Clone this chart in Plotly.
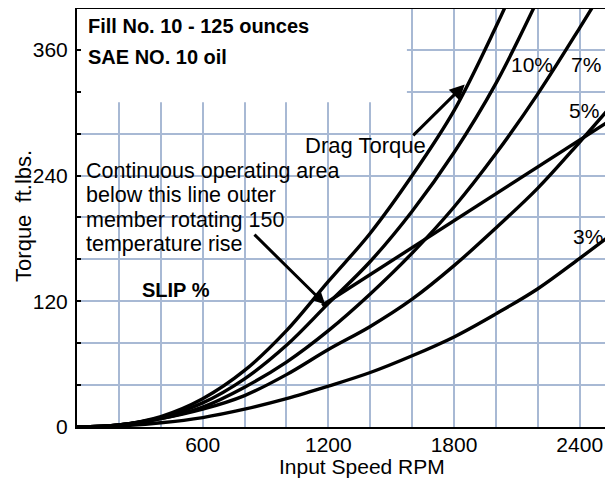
import plotly.graph_objects as go

# ---- data ----
drag_rpm = [0, 200, 400, 600, 800, 1000, 1200, 1400, 1600, 1800, 2000, 2100]
drag_torque = [0, 2, 10, 27, 54, 92, 139, 185, 240, 302, 382, 426]

slip10_rpm = [0, 200, 400, 600, 800, 1000, 1200, 1400, 1600, 1800, 2000, 2200, 2300]
slip10_torque = [0, 2, 9, 23, 46, 78, 118, 158, 206, 262, 328, 408, 450]

slip7_rpm = [0, 200, 400, 600, 800, 1000, 1200, 1400, 1600, 1800, 2000, 2200, 2400, 2550]
slip7_torque = [0, 2, 8, 19, 38, 62, 92, 127, 166, 210, 261, 318, 381, 430]

slip5_rpm = [0, 200, 400, 600, 800, 1000, 1200, 1400, 1600, 1800, 2000, 2200, 2400, 2540]
slip5_torque = [0, 2, 8, 17, 30, 50, 74, 96, 122, 154, 190, 228, 272, 304]

slip3_rpm = [0, 200, 400, 600, 800, 1000, 1200, 1400, 1600, 1800, 2000, 2200, 2400, 2540]
slip3_torque = [0, 1, 4, 9, 17, 27, 39, 52, 68, 86, 108, 132, 161, 182]

limit_rpm = [1170, 2540]
limit_torque = [116, 292]

x_tickvals = [600, 1200, 1800, 2400]
y_tickvals = [0, 120, 240, 360]

FONT = "Liberation Sans, Arial, Helvetica, sans-serif"
GRID = "#a8b9d4"

fig = go.Figure()
for xs, ys in [(drag_rpm, drag_torque), (slip10_rpm, slip10_torque), (slip7_rpm, slip7_torque),
               (slip5_rpm, slip5_torque), (slip3_rpm, slip3_torque), (limit_rpm, limit_torque)]:
    fig.add_trace(go.Scatter(x=xs, y=ys, mode="lines",
                             line=dict(color="black", width=3.4, shape="spline"),
                             hoverinfo="skip", showlegend=False))

# white area behind the heading (grid hidden there)
fig.add_shape(type="rect", xref="x", yref="y", x0=0, x1=1575, y0=310, y1=400,
              fillcolor="white", line=dict(width=0), layer="between")

fig.update_xaxes(range=[0, 2535], tickvals=x_tickvals, ticktext=[str(v) for v in x_tickvals],
                 showgrid=True, gridcolor=GRID, gridwidth=2,
                 minor=dict(dtick=200, tick0=0, showgrid=True, gridcolor=GRID, gridwidth=2),
                 showline=True, linecolor="black", linewidth=2, mirror=True, automargin=False,
                 zeroline=False, ticks="", ticklabelstandoff=-2,
                 tickfont=dict(family=FONT, size=21, color="black"))
fig.update_yaxes(range=[0, 399], tickvals=y_tickvals, ticktext=[str(v) for v in y_tickvals],
                 showgrid=True, gridcolor=GRID, gridwidth=2,
                 minor=dict(dtick=40, tick0=0, showgrid=True, gridcolor=GRID, gridwidth=2,
                            ticks="inside", ticklen=4, tickcolor="black", tickwidth=1.5),
                 showline=True, linecolor="black", linewidth=2, mirror=True, automargin=False,
                 zeroline=False, ticks="inside", ticklen=4, tickcolor="black", tickwidth=1.5,
                 ticklabelstandoff=3,
                 tickfont=dict(family=FONT, size=21, color="black"))

ann = []
def txt(x, y, s, size=21, bold=False):
    ann.append(dict(x=x, y=y, xref="x", yref="y", text=("<b>%s</b>" % s) if bold else s,
                    showarrow=False, xanchor="left", yanchor="middle",
                    font=dict(family=FONT, size=size, color="black")))

txt(45, 383, "Fill No. 10 - 125 ounces", size=20, bold=True)
txt(45, 353, "SAE NO. 10 oil", size=20, bold=True)
txt(1080, 269, "Drag Torque", size=22)
txt(35, 244.5, "Continuous operating area", size=21.5)
txt(35, 221, "below this line outer", size=21.5)
txt(35, 197.7, "member rotating 150", size=21.5)
txt(35, 174.5, "temperature rise", size=21.5)
txt(300, 131, "SLIP %", size=20, bold=True)
txt(2062, 346, "10%")
txt(2350, 346, "7%")
txt(2340, 302, "5%")
txt(2360, 182, "3%")

# arrows
ann.append(dict(x=1851, y=327, ax=1598, ay=277, xref="x", yref="y", axref="x", ayref="y",
                text="", showarrow=True, arrowhead=2, arrowsize=1, arrowwidth=3, arrowcolor="black"))
ann.append(dict(x=1185, y=117, ax=840, ay=185, xref="x", yref="y", axref="x", ayref="y",
                text="", showarrow=True, arrowhead=2, arrowsize=0.8, arrowwidth=3, arrowcolor="black"))

# axis titles
ann.append(dict(x=(362 - 77) / 531, y=-0.094, xref="paper", yref="paper", text="Input Speed RPM",
                showarrow=False, xanchor="center", yanchor="middle",
                font=dict(family=FONT, size=21, color="black")))
ann.append(dict(x=(24 - 77) / 531, y=0.505, xref="paper", yref="paper", text="Torque  ft.lbs.",
                showarrow=False, xanchor="center", yanchor="middle", textangle=-90,
                font=dict(family=FONT, size=22, color="black")))

# the page body adds an 8px offset, so the figure is sized to the remaining window
fig.update_layout(width=605, height=470, margin=dict(l=69, r=5, t=1, b=51),
                  paper_bgcolor="white", plot_bgcolor="white", annotations=ann,
                  showlegend=False)

fig.write_html("out.html")
